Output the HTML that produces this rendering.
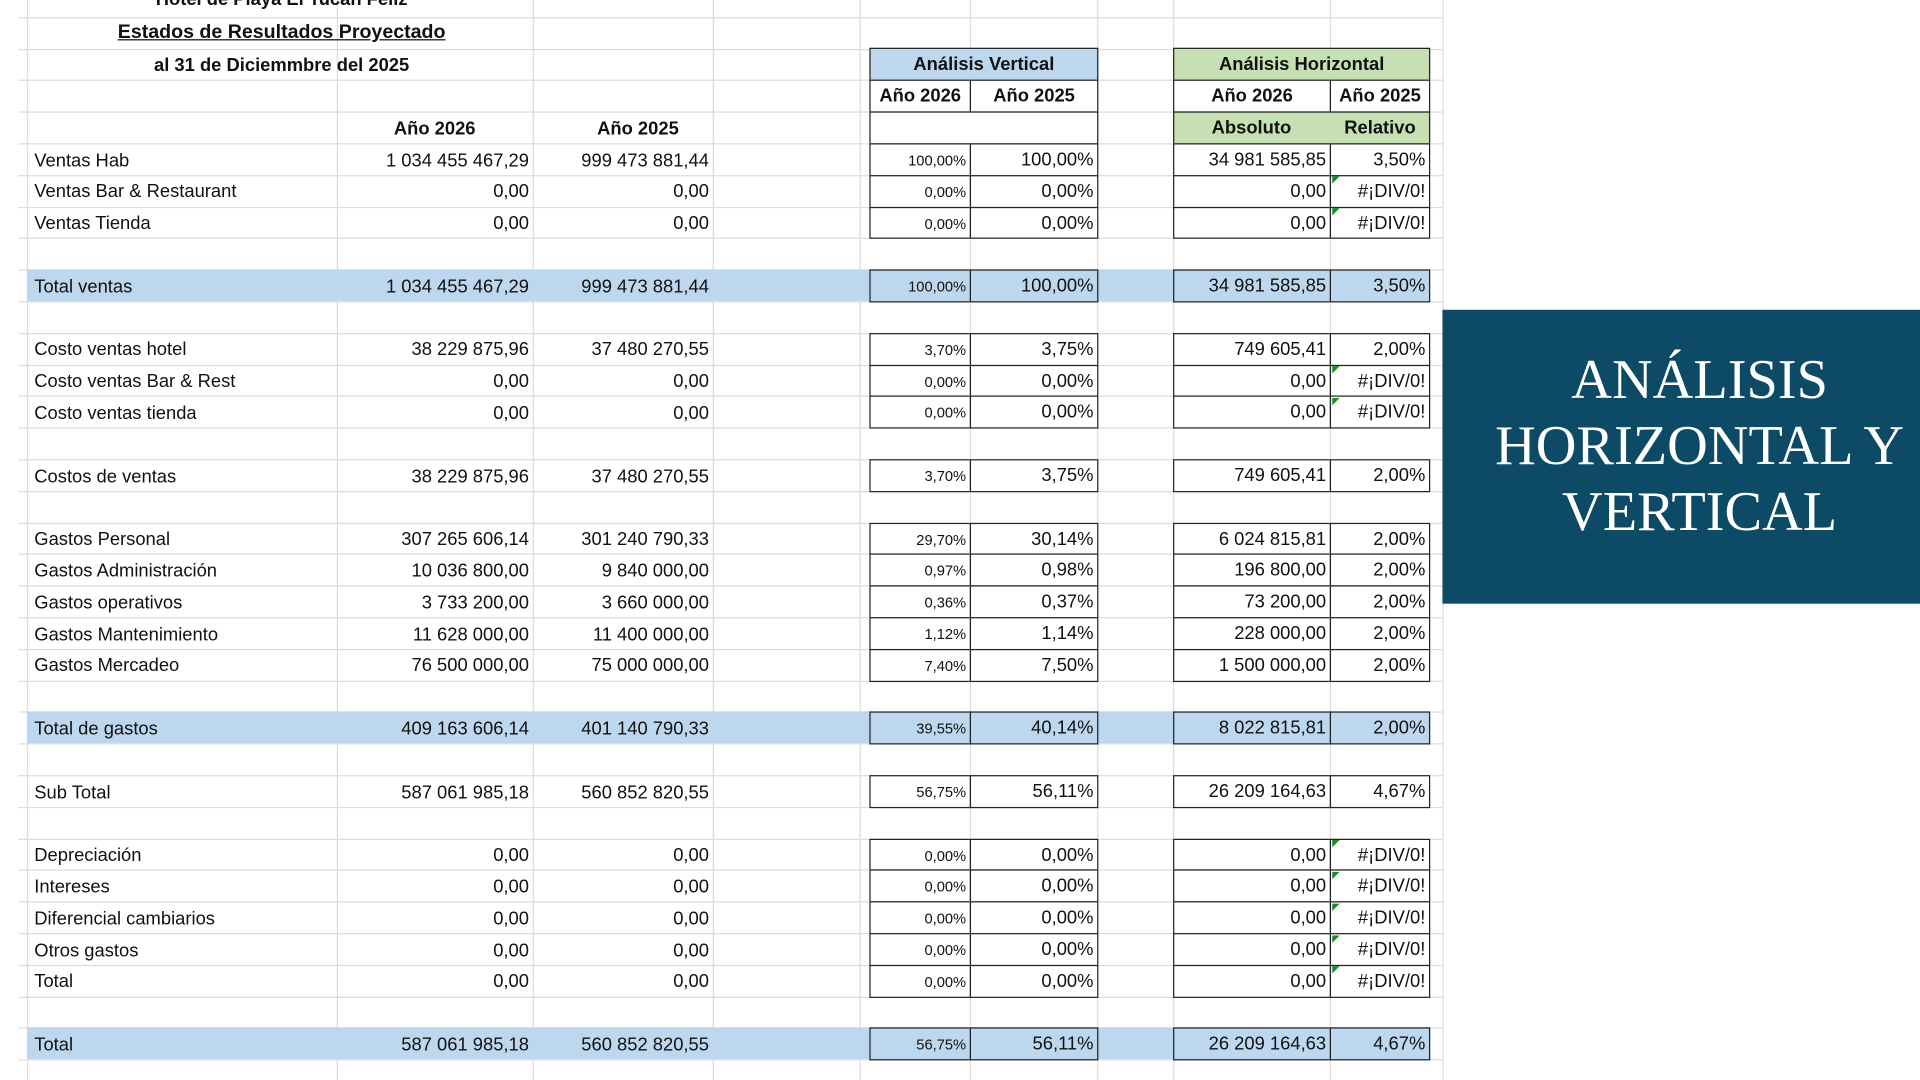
<!DOCTYPE html>
<html><head><meta charset="utf-8">
<style>
html,body{margin:0;padding:0;width:1920px;height:1080px;overflow:hidden;background:#fff}
#wrap{position:absolute;left:0;top:0;width:1568px;height:882px;transform:scale(1.22449);transform-origin:0 0;font-family:"Liberation Sans",sans-serif;font-size:15px;color:#111;overflow:hidden}
.a{position:absolute;white-space:nowrap;line-height:26px;height:26px}
.r{text-align:right}
.c{text-align:center}
.b{font-weight:bold}
.gl{position:absolute;background:#dcdcdc}
.cell{position:absolute;box-sizing:border-box;border:1.5px solid #222}
.tri{position:absolute;width:0;height:0;border-top:6px solid #1a8a2a;border-right:6px solid transparent}
</style></head><body>
<div id="wrap">
<div id="grid"></div>
<div id="cells"></div>
<div class="a c b" style="left:80px;width:300px;top:-13px">Hotel de Playa El Tucan Feliz</div>
<div class="a c b" style="left:80px;width:300px;top:14px;font-size:16px;text-decoration:underline">Estados de Resultados Proyectado</div>
<div class="a c b" style="left:80px;width:300px;top:41px">al 31 de Diciemmbre del 2025</div>
<div class="a c b" style="left:275px;width:160px;top:93px">Año 2026</div>
<div class="a c b" style="left:435px;width:172px;top:93px">Año 2025</div>
<div style="position:absolute;left:1178px;top:253px;width:390px;height:240px;background:#0d4a66">
<div style="position:absolute;left:0;width:420px;top:30px;text-align:center;color:#fff;font-family:'Liberation Serif',serif;font-size:46px;line-height:54px">ANÁLISIS<br>HORIZONTAL Y<br>VERTICAL</div>
</div>
</div>
<script>
const labels=["Ventas Hab","Ventas Bar & Restaurant","Ventas Tienda","","Total ventas","","Costo ventas hotel","Costo ventas Bar & Rest","Costo ventas tienda","","Costos de ventas","","Gastos Personal","Gastos Administración","Gastos operativos","Gastos Mantenimiento","Gastos Mercadeo","","Total de gastos","","Sub Total","","Depreciación","Intereses","Diferencial cambiarios","Otros gastos","Total","","Total"];
const y2026=["1 034 455 467,29","0,00","0,00","","1 034 455 467,29","","38 229 875,96","0,00","0,00","","38 229 875,96","","307 265 606,14","10 036 800,00","3 733 200,00","11 628 000,00","76 500 000,00","","409 163 606,14","","587 061 985,18","","0,00","0,00","0,00","0,00","0,00","","587 061 985,18"];
const y2025=["999 473 881,44","0,00","0,00","","999 473 881,44","","37 480 270,55","0,00","0,00","","37 480 270,55","","301 240 790,33","9 840 000,00","3 660 000,00","11 400 000,00","75 000 000,00","","401 140 790,33","","560 852 820,55","","0,00","0,00","0,00","0,00","0,00","","560 852 820,55"];
const vert26=["100,00%","0,00%","0,00%","","100,00%","","3,70%","0,00%","0,00%","","3,70%","","29,70%","0,97%","0,36%","1,12%","7,40%","","39,55%","","56,75%","","0,00%","0,00%","0,00%","0,00%","0,00%","","56,75%"];
const vert25=["100,00%","0,00%","0,00%","","100,00%","","3,75%","0,00%","0,00%","","3,75%","","30,14%","0,98%","0,37%","1,14%","7,50%","","40,14%","","56,11%","","0,00%","0,00%","0,00%","0,00%","0,00%","","56,11%"];
const absol=["34 981 585,85","0,00","0,00","","34 981 585,85","","749 605,41","0,00","0,00","","749 605,41","","6 024 815,81","196 800,00","73 200,00","228 000,00","1 500 000,00","","8 022 815,81","","26 209 164,63","","0,00","0,00","0,00","0,00","0,00","","26 209 164,63"];
const relat=["3,50%","#¡DIV/0!","#¡DIV/0!","","3,50%","","2,00%","#¡DIV/0!","#¡DIV/0!","","2,00%","","2,00%","2,00%","2,00%","2,00%","2,00%","","2,00%","","4,67%","","#¡DIV/0!","#¡DIV/0!","#¡DIV/0!","#¡DIV/0!","#¡DIV/0!","","4,67%"];
const blueRows=[4,18,28];
const W=document.getElementById('wrap'),G=document.getElementById('grid'),C=document.getElementById('cells');
const RH=25.8,Y0=117;
function rowY(i){return Y0+i*RH;}
function mk(par,cls,style,txt){const d=document.createElement('div');d.className=cls;d.style.cssText=style;if(txt!==undefined)d.textContent=txt;par.appendChild(d);return d;}
for(let k=-4;k<=30;k++){const g=mk(G,'gl',`left:15px;width:1163px;top:${rowY(k)}px;height:1px`);

}
[22,275,435,582,702,792,896,958,1086,1178].forEach(x=>{const g=mk(G,'gl',`left:${x}px;top:0;width:1px;height:882px`);

});
blueRows.forEach(i=>{const d=mk(C,'',`position:absolute;left:22px;width:1146px;top:${rowY(i)}px;height:${RH}px;background:#bdd7ee`);

});
function box(x,y,w,h,bg,txt,name){const d=mk(C,'cell a c b',`left:${x}px;top:${y}px;width:${w}px;height:${h}px;line-height:${h-1}px;background:${bg||'#fff'}`,txt);

return d;}
box(710,39,187,27,'#bdd7ee','Análisis Vertical','vertical-analysis-header');
box(710,65,83,27,'','Año 2026','vertical-2026-header');
box(792,65,105,27,'','Año 2025','vertical-2025-header');
box(710,91,187,27,'','','vertical-blank-header');
box(958,39,210,27,'#c6e0b4','Análisis Horizontal','horizontal-analysis-header');
box(958,65,129,27,'','Año 2026','horizontal-2026-header');
box(1086,65,82,27,'','Año 2025','horizontal-2025-header');
box(958,91,210,27,'#c6e0b4','','horizontal-subheader');
const t1=mk(C,'a c b',`left:958px;width:128px;top:92px`,'Absoluto');


const t2=mk(C,'a c b',`left:1086px;width:82px;top:92px`,'Relativo');


labels.forEach((lab,i)=>{if(!lab)return;const y=rowY(i);const bg=blueRows.includes(i)?'#bdd7ee':'#fff';
const l=mk(C,'a',`left:28px;top:${y+1.5}px`,lab);


const v1=mk(C,'a r',`left:275px;width:157px;top:${y+1.5}px`,y2026[i]);


const v2=mk(C,'a r',`left:435px;width:144px;top:${y+1.5}px`,y2025[i]);


const c1=mk(C,'cell a r',`left:710px;top:${y}px;width:83px;height:${RH+1}px;line-height:${RH+2}px;font-size:12px;padding-right:3px;background:${bg}`,vert26[i]);


const c2=mk(C,'cell a r',`left:792px;top:${y}px;width:105px;height:${RH+1}px;line-height:${RH}px;padding-right:3px;background:${bg}`,vert25[i]);


const c3=mk(C,'cell a r',`left:958px;top:${y}px;width:129px;height:${RH+1}px;line-height:${RH}px;padding-right:3px;background:${bg}`,absol[i]);


const c4=mk(C,'cell a r',`left:1086px;top:${y}px;width:82px;height:${RH+1}px;line-height:${RH}px;padding-right:3px;background:${bg}`,relat[i]);


if(relat[i].startsWith('#')){const t=mk(C,'tri',`left:1088px;top:${y+1.5}px`);

}
});
</script>
</body></html>
